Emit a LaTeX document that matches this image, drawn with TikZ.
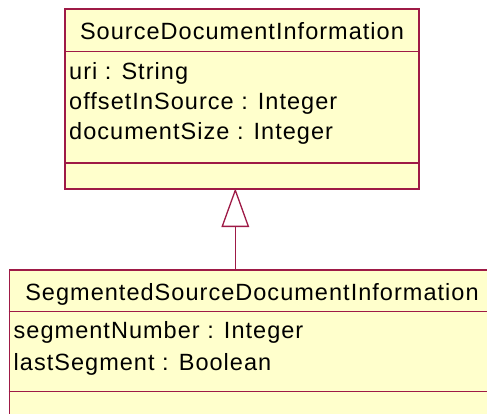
\documentclass[tikz,border=0pt]{standalone}
\usepackage{fontspec}
\setmainfont{Liberation Sans}[LetterSpace=4.4]
\usetikzlibrary{arrows.meta}
\definecolor{umlline}{HTML}{9E1A46}
\definecolor{umlfill}{HTML}{FFFFCC}
\tikzset{
  classbox/.style={draw=umlline, fill=umlfill, line width=1.4pt, rectangle,
    inner sep=0pt, anchor=north west},
  sepline/.style={draw=umlline, line width=1.4pt},
  umltext/.style={inner sep=0pt, font=\fontsize{23.5pt}{28pt}\selectfont},
  member/.style={umltext, anchor=base west},
  title/.style={umltext, anchor=base},
  inherit/.style={draw=umlline, line width=1.3pt,
    -{Triangle[open, length=38.7pt, width=27.6pt, fill=white]}},
}
\begin{document}
\begin{tikzpicture}[x=1pt, y=-1pt]
\useasboundingbox (0,0) rectangle (487,414);
\clip (0,0) rectangle (487,414);

% superclass
\node[classbox, minimum width=354pt, minimum height=180pt] (src) at (64.3,8.3) {};
\draw[sepline] (64.3,51.7) -- (418.3,51.7);
\draw[sepline] (64.3,163) -- (418.3,163);
\node[title] (srcname) at (242,40) {SourceDocumentInformation};
\node[member] (srcuri) at (69,80) {uri : String};
\node[member] (srcoff) at (69,110) {offsetInSource : Integer};
\node[member] (srcsize) at (69,140) {documentSize : Integer};

% subclass (runs past the right and bottom edges)
\node[classbox, minimum width=486pt, minimum height=200pt] (seg) at (8.7,269.3) {};
\draw[sepline] (8.7,311.7) -- (495,311.7);
\draw[sepline] (8.7,391.7) -- (495,391.7);
\node[title] (segname) at (252,300) {SegmentedSourceDocumentInformation};
\node[member] (segnum) at (13.5,338.3) {segmentNumber : Integer};
\node[member] (seglast) at (13.5,370) {lastSegment : Boolean};

% generalization
\coordinate (genfoot) at (235.3,269.3);
\coordinate (genhead) at (235.3,188.3);
\draw[inherit] (genfoot) -- (genhead);
\end{tikzpicture}
\end{document}
